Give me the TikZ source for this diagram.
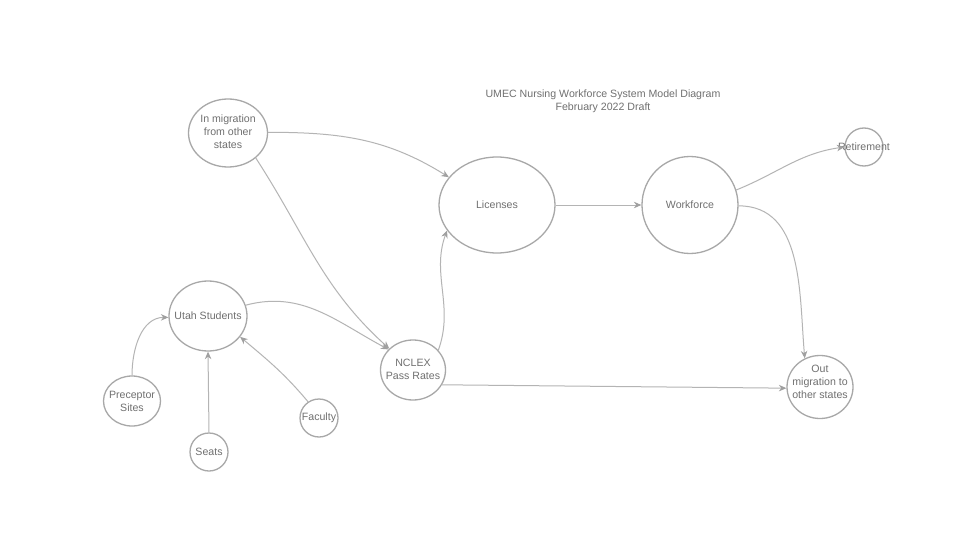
\documentclass[tikz,border=0pt]{standalone}
\usepackage{fontspec}
\setmainfont{Liberation Sans}
\usetikzlibrary{shapes.geometric,arrows.meta}
\definecolor{ringc}{HTML}{A8A8A8}
\definecolor{edgec}{HTML}{B4B4B4}
\definecolor{tipc}{HTML}{A0A0A0}
\definecolor{txtc}{HTML}{707070}
\begin{document}
\begin{tikzpicture}[x=1pt,y=1pt,
  bub/.style={draw=ringc, line width=1.3pt, ellipse, inner sep=0pt},
  txt/.style={text=txtc, font=\fontsize{10.6}{13}\selectfont, align=center, inner sep=0pt},
  arr/.style={draw=edgec, line width=1pt, -{Stealth[length=7.5pt,width=6.5pt,color=tipc]}}]
\useasboundingbox[fill=white] (0,0) rectangle (960,-540);
% title
\node[txt] (title) at (603,-101) {UMEC Nursing Workforce System Model Diagram\\February 2022 Draft};
% nodes
\node[bub, minimum width=79, minimum height=68] (inm) at (228,-133) {};
\node[txt] at ([yshift=1]inm.center) {In migration\\from other\\states};
\node[bub, minimum width=116, minimum height=96] (lic) at (497,-205) {};
\node[txt] at (lic) {Licenses};
\node[bub, minimum width=96, minimum height=97] (wf) at (690,-205) {};
\node[txt] at (wf) {Workforce};
\node[bub, minimum width=38, minimum height=38] (ret) at (864,-147) {};
\node[txt] at (ret) {Retirement};
\node[bub, minimum width=78, minimum height=70] (utah) at (208,-316) {};
\node[txt] at (utah) {Utah Students};
\node[bub, minimum width=65, minimum height=60] (ncl) at (413,-370) {};
\node[txt] at ([yshift=1]ncl.center) {NCLEX\\Pass Rates};
\node[bub, minimum width=66, minimum height=63] (out) at (820,-387) {};
\node[txt] at ([yshift=5]out.center) {Out\\migration to\\other states};
\node[bub, minimum width=57, minimum height=50] (pre) at (132,-401) {};
\node[txt] at (pre) {Preceptor\\Sites};
\node[bub, minimum width=38, minimum height=38] (seat) at (209,-452) {};
\node[txt] at (seat) {Seats};
\node[bub, minimum width=38, minimum height=38] (fac) at (319,-418) {};
\node[txt] at (fac) {Faculty};
% edges
\draw[arr] (inm.1) to[out=0,in=148] (lic.150);
\draw[arr] (inm.-42) to[out=-57,in=138] (ncl.138);
\draw[arr] (utah.16) to[out=15,in=152] (ncl.140);
\draw[arr] (ncl.38) to[out=70,in=-110] (lic.-153);
\draw[arr] (lic.east) -- (wf.west);
\draw[arr] (wf.18) to[out=22,in=188] (ret.west);
\draw[arr] (wf.-1) to[out=0,in=95] (out.118);
\draw[arr] (ncl.-27) -- (out.182);
\draw[arr] (pre.north) to[out=90,in=180] (utah.182);
\draw[arr] (seat.north) -- (utah.south);
\draw[arr] (fac.124) to[out=130,in=-40] (utah.-33);
\end{tikzpicture}
\end{document}
